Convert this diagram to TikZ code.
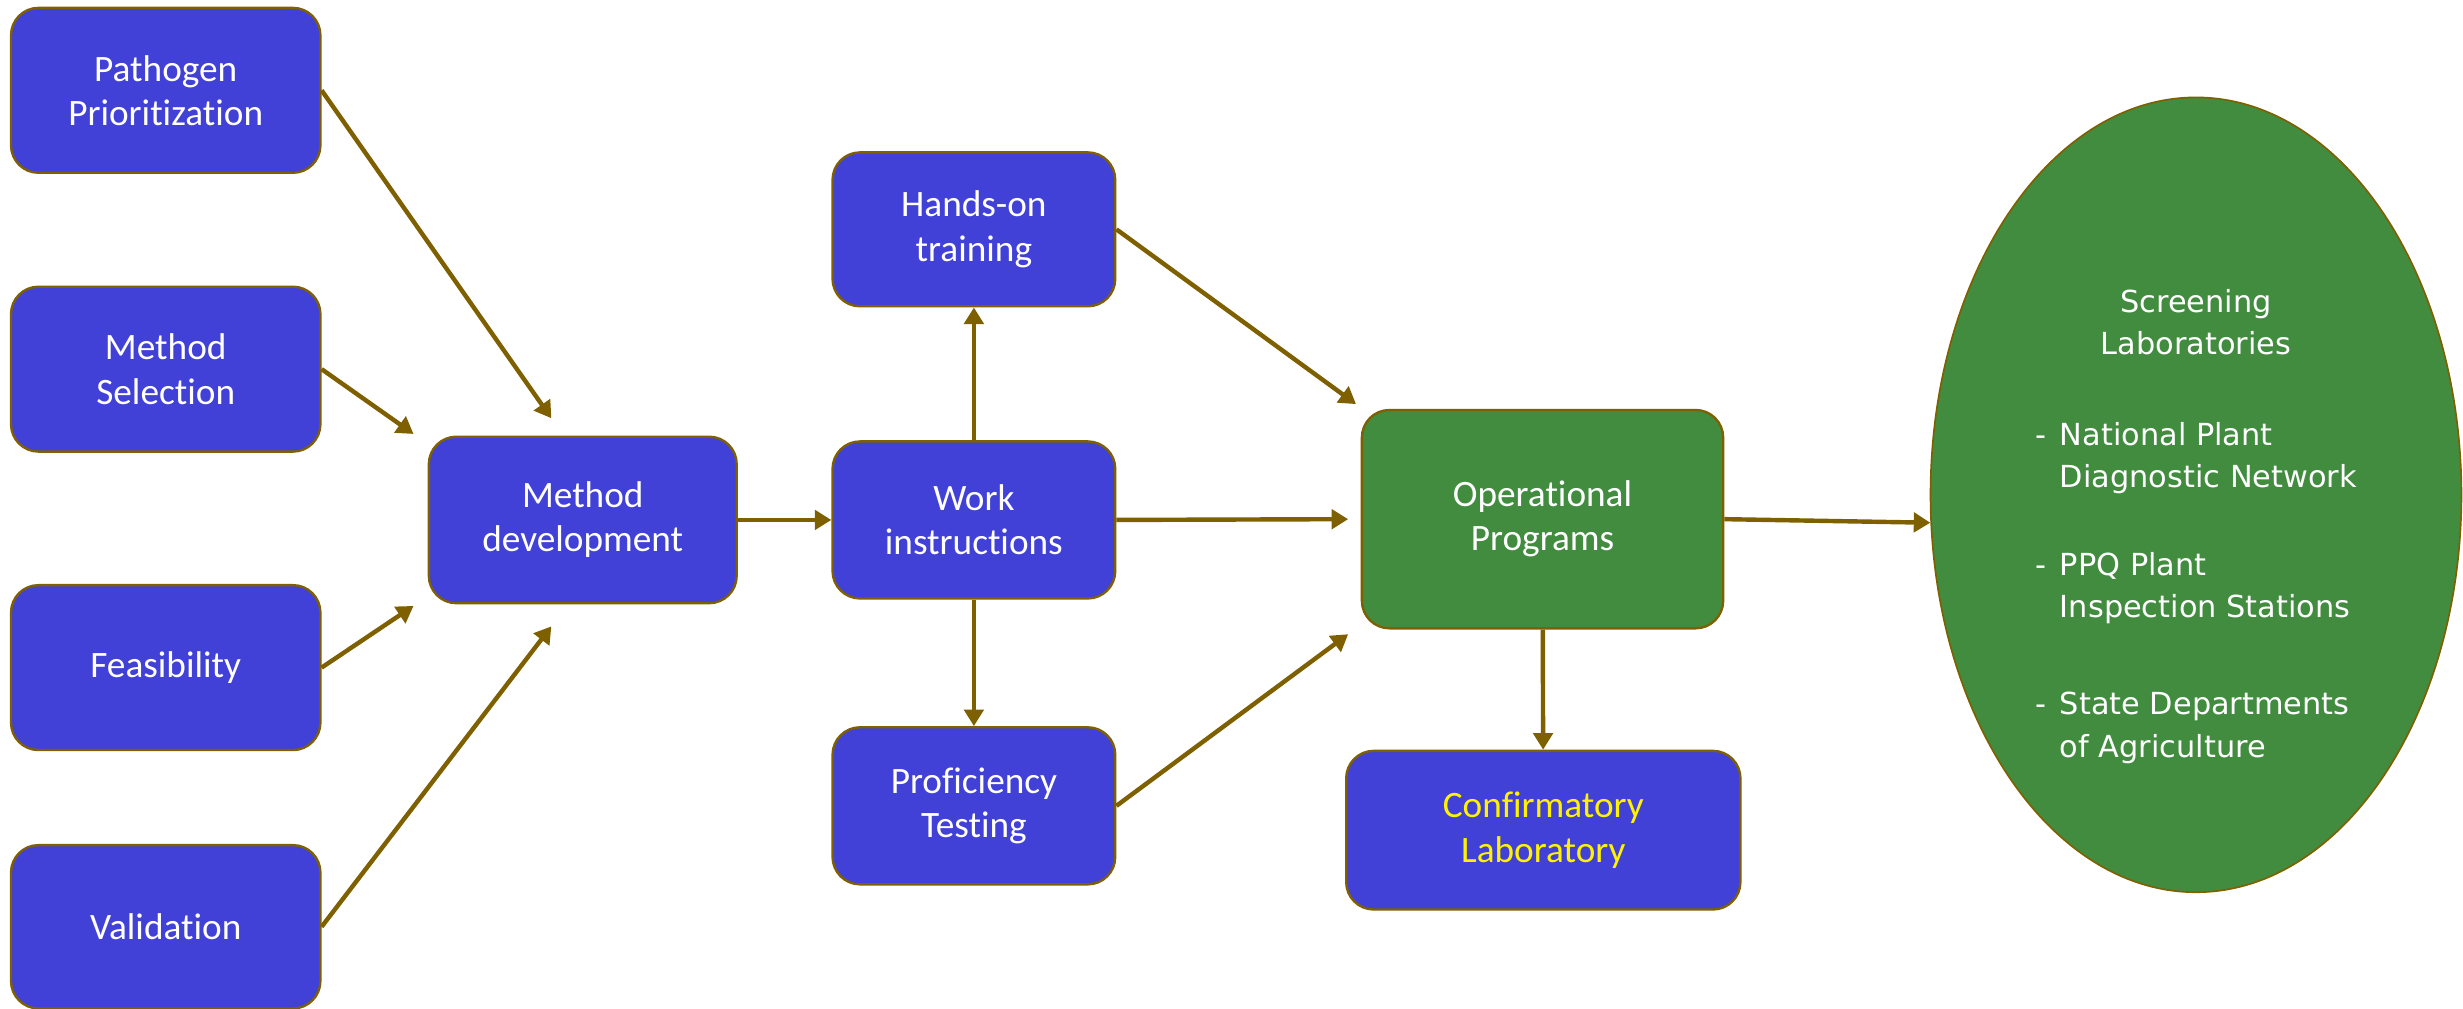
\documentclass[tikz,border=0pt]{standalone}
\usepackage{fontspec}
\setmainfont{Carlito}[Ligatures=NoCommon]
\newfontfamily\labfont{DejaVu Sans}
\usetikzlibrary{arrows.meta,shapes.geometric}

\definecolor{boxblue}{RGB}{65,65,216}
\definecolor{opgreen}{RGB}{66,140,64}
\definecolor{linkbrown}{RGB}{127,96,0}

\begin{document}
\begin{tikzpicture}[
    stage/.style={draw=linkbrown, line width=0.85pt, fill=boxblue, rounded corners=0.35cm,
        text=white, align=center, inner sep=0pt, font=\fontsize{13.5}{16}\selectfont},
    link/.style={draw=linkbrown, line width=1.6pt, -{Triangle[length=6pt,width=7pt]}},
]
    \useasboundingbox (0,0) rectangle (31.36,-12.84);

    \node[stage, minimum width=3.94cm, minimum height=2.1cm] (pp) at (2.11,-1.15) {Pathogen\\Prioritization};
    \node[stage, minimum width=3.94cm, minimum height=2.1cm] (ms) at (2.11,-4.70) {Method\\Selection};
    \node[stage, minimum width=3.94cm, minimum height=2.1cm] (fe) at (2.11,-8.50) {Feasibility};
    \node[stage, minimum width=3.94cm, minimum height=2.08cm] (va) at (2.11,-11.80) {Validation};

    \node[stage, minimum width=3.92cm, minimum height=2.12cm] (md) at (7.42,-6.62) {Method\\development};

    \node[stage, minimum width=3.6cm, minimum height=1.96cm] (ho) at (12.4,-2.92) {Hands-on\\training};
    \node[stage, minimum width=3.6cm, minimum height=2.0cm] (wi) at (12.4,-6.62) {Work\\instructions};
    \node[stage, minimum width=3.6cm, minimum height=2.0cm] (pt) at (12.4,-10.26) {Proficiency\\Testing};

    \node[stage, fill=opgreen, minimum width=4.6cm, minimum height=2.78cm] (op) at (19.64,-6.61) {Operational\\Programs};
    \node[stage, text=yellow, minimum width=5.02cm, minimum height=2.02cm] (cl) at (19.65,-10.57) {Confirmatory\\Laboratory};

    \node[ellipse, draw=linkbrown, line width=0.6pt, fill=opgreen, inner sep=0pt,
        minimum width=6.76cm, minimum height=10.12cm] (sl) at (27.96,-6.3) {};
    \node[text=white, inner sep=0pt, font=\labfont\fontsize{11}{15.3}\selectfont] (sltext) at ([yshift=-0.4cm]sl.center) {%
        \begin{tabular}{@{}l@{\hspace{5pt}}l@{}}
            \multicolumn{2}{c}{Screening}\\
            \multicolumn{2}{c}{Laboratories}\\[17.5pt]
            - & National Plant\\
              & Diagnostic Network\\[16.5pt]
            - & PPQ Plant\\
              & Inspection Stations\\[20pt]
            - & State Departments\\
              & of Agriculture
        \end{tabular}};

    \draw[link] (pp.east) -- ([xshift=-0.40cm,yshift=0.22cm]md.north);
    \draw[link] (ms.east) -- ([xshift=-0.18cm,yshift=0.02cm]md.north west);
    \draw[link] (fe.east) -- ([xshift=-0.18cm,yshift=-0.02cm]md.south west);
    \draw[link] (va.east) -- ([xshift=-0.40cm,yshift=-0.28cm]md.south);

    \draw[link] (md) -- (wi);
    \draw[link] (wi) -- (ho);
    \draw[link] (wi) -- (pt);

    \draw[link] (ho.east) -- ([xshift=-0.06cm,yshift=0.06cm]op.north west);
    \draw[link] (wi.east) -- ([xshift=-0.16cm]op.west);
    \draw[link] (pt.east) -- ([xshift=-0.16cm,yshift=-0.06cm]op.south west);

    \draw[link] (op) -- (cl);
    \draw[link] (op.east) -- (sl.186);
\end{tikzpicture}
\end{document}
